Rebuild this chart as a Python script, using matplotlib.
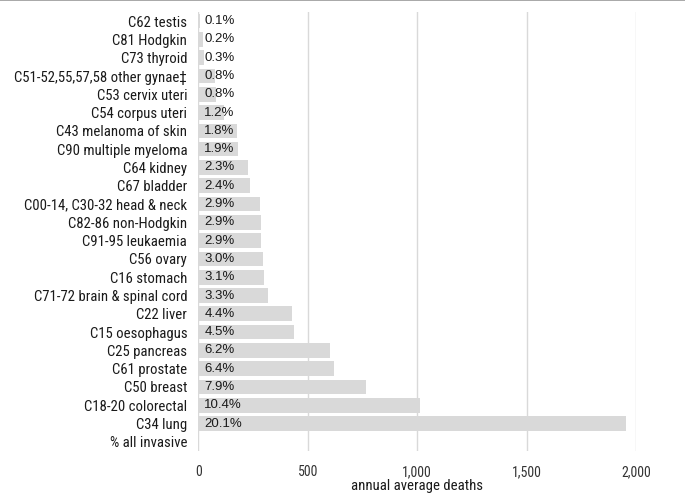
import matplotlib
matplotlib.use('Agg')
import matplotlib.pyplot as plt
from matplotlib import font_manager
from matplotlib.font_manager import FontProperties
from matplotlib.ticker import FuncFormatter, MultipleLocator
from matplotlib.lines import Line2D

# cancer sites, top to bottom
sites = ['C62 testis', 'C81 Hodgkin', 'C73 thyroid', 'C51-52,55,57,58 other gynae\u2021',
         'C53 cervix uteri', 'C54 corpus uteri', 'C43 melanoma of skin', 'C90 multiple myeloma',
         'C64 kidney', 'C67 bladder', 'C00-14, C30-32 head & neck', 'C82-86 non-Hodgkin',
         'C91-95 leukaemia', 'C56 ovary', 'C16 stomach', 'C71-72 brain & spinal cord',
         'C22 liver', 'C15 oesophagus', 'C25 pancreas', 'C61 prostate', 'C50 breast',
         'C18-20 colorectal', 'C34 lung', '% all invasive']

# annual average deaths (no bar for the last row)
deaths = [8, 20, 27, 78, 80, 118, 175, 182, 228, 235, 282, 285,
          288, 294, 300, 318, 429, 439, 603, 621, 767, 1012, 1955, None]

pct_labels = ['0.1%', '0.2%', '0.3%', '0.8%', '0.8%', '1.2%', '1.8%', '1.9%',
              '2.3%', '2.4%', '2.9%', '2.9%', '2.9%', '3.0%', '3.1%', '3.3%',
              '4.4%', '4.5%', '6.2%', '6.4%', '7.9%', '10.4%', '20.1%', '']


def narrow_font(size):
    # first regular-weight narrow/condensed face that is installed
    wanted = ['Liberation Sans Narrow', 'Arial Narrow', 'Roboto Condensed',
              'IBM Plex Sans Condensed', 'Open Sans']
    for fam in wanted:
        for f in font_manager.fontManager.ttflist:
            if f.name != fam or f.style != 'normal' or f.weight not in (400, 'normal', 'regular'):
                continue
            if fam == 'Open Sans' and f.stretch != 'condensed':
                continue
            return FontProperties(fname=f.fname, size=size)
    return FontProperties(family='Liberation Sans', size=size * 0.85)


cat_font = narrow_font(10.6)
tick_font = narrow_font(10)
xlab_font = narrow_font(10.6)

fig = plt.figure(figsize=(6.85, 4.95), dpi=100)
ax = fig.add_axes([0.2895, 0.0889, 0.9285 - 0.2895, 0.9758 - 0.0889])

ypos = list(range(len(sites)))
vals = [0 if v is None else v for v in deaths]
ax.barh(ypos, vals, height=0.8, color='#d9d9d9', zorder=2)

for y, lab in zip(ypos, pct_labels):
    ax.text(27, y, lab, va='center', ha='left', fontsize=9.5,
            family='Liberation Sans', color='#1a1a1a', zorder=3)

ax.set_ylim(len(sites) - 0.5, -0.5)
ax.set_yticks(ypos)
ax.set_yticklabels(sites, fontproperties=cat_font, color='#1a1a1a')
ax.tick_params(axis='y', length=0, pad=8)

ax.set_xlim(0, 2000)
ax.xaxis.set_major_locator(MultipleLocator(500))
ax.xaxis.set_major_formatter(FuncFormatter(lambda v, p: f'{int(v):,}'))
ax.tick_params(axis='x', length=0, pad=10, labelcolor='#333333')
for t in ax.get_xticklabels():
    t.set_fontproperties(tick_font)
ax.set_xlabel('annual average deaths', fontproperties=xlab_font, color='#1a1a1a', labelpad=0)

ax.grid(axis='x', color='#d9d9d9', linewidth=1.0, zorder=1)
ax.set_axisbelow(True)
for s in ax.spines.values():
    s.set_visible(False)

# thin rule along the top edge
fig.add_artist(Line2D([0, 1], [0.999, 0.999], transform=fig.transFigure,
                      color='#9a9a9a', linewidth=1.2))

fig.savefig('out.png', dpi=100)
